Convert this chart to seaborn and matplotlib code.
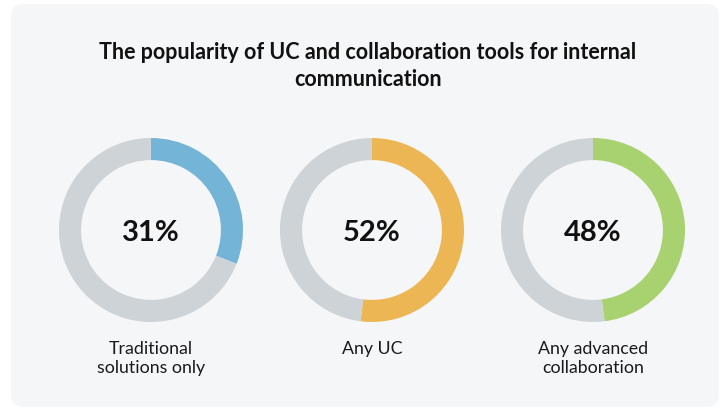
import matplotlib.pyplot as plt
import seaborn as sns
from matplotlib.patches import FancyBboxPatch

title = "The popularity of UC and collaboration tools for internal\ncommunication"
categories = ["Traditional\nsolutions only", "Any UC", "Any advanced\ncollaboration"]
shares = [31, 52, 48]
colors = ["#74b4d7", "#ecb655", "#a8d16f"]
rest_color = "#cdd3d6"

W, H = 722, 413


def donut(fig, cx, cy, r, value, color, label):
    """draw one ring with the share in the middle and the label under it"""
    ax = fig.add_axes([(cx - r) / W, (H - cy - r) / H, 2 * r / W, 2 * r / H])
    ax.pie([value, 100 - value], colors=[color, rest_color], startangle=90,
           counterclock=False, radius=1, wedgeprops=dict(width=0.24, linewidth=0))
    ax.set_xlim(-1, 1)
    ax.set_ylim(-1, 1)
    ax.set_aspect("equal")
    ax.axis("off")
    fig.text(cx / W, 1 - (cy + 3) / H, f"{value}%", ha="center", va="center",
             fontsize=21, fontweight="bold", color="#111111")
    fig.text(cx / W, 1 - 341 / H, label, ha="center", va="top", fontsize=12.8,
             color="#1a1a1a", linespacing=1.2)


def main():
    sns.set_style("white")
    plt.rcParams["font.family"] = ["Lato", "DejaVu Sans"]

    fig = plt.figure(figsize=(W / 100, H / 100), dpi=100)
    fig.patch.set_facecolor("white")
    panel = FancyBboxPatch((11 / W, 6 / H), 708 / W, 403 / H,
                           boxstyle="round,pad=0,rounding_size=0.018",
                           transform=fig.transFigure, facecolor="#f5f6f8",
                           edgecolor="none", mutation_aspect=W / H, zorder=-5)
    fig.patches.append(panel)

    fig.text(368 / W, 1 - 66 / H, title, ha="center", va="center", fontsize=15.5,
             fontweight="bold", color="#111111", linespacing=1.35)

    centers = [151, 372, 593]
    for cx, value, color, label in zip(centers, shares, colors, categories):
        donut(fig, cx, 230, 92, value, color, label)

    fig.savefig("out.png", dpi=100)
    plt.close(fig)


if __name__ == "__main__":
    main()
